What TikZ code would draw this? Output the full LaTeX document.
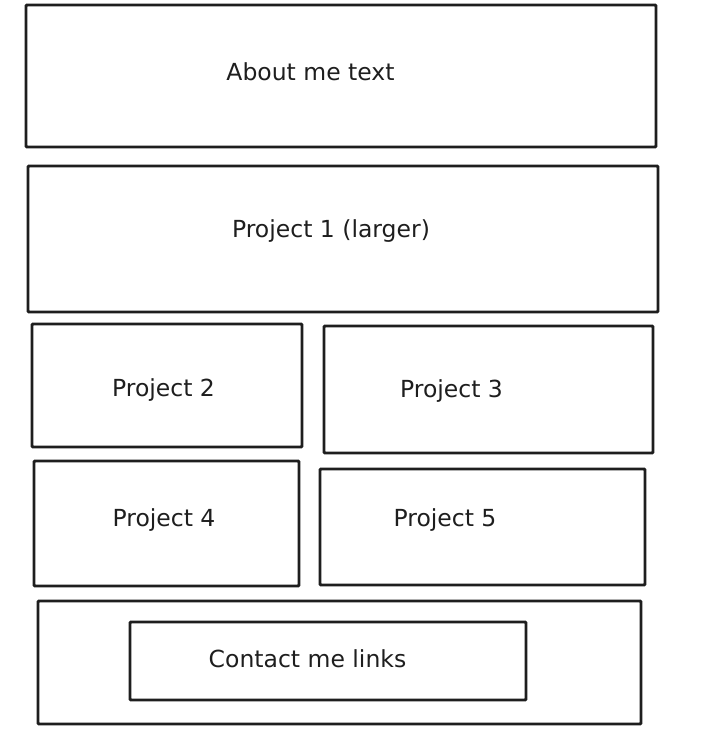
\documentclass[tikz,border=0pt]{standalone}
\usepackage{fontspec}
\setmainfont{DejaVu Sans}
\definecolor{ink}{HTML}{1E1E1E}
\begin{document}
\begin{tikzpicture}[x=1pt,y=-1pt,
  panel/.style={draw=ink, line width=2.9pt, rounded corners=1pt, inner sep=0pt, fill=white},
  caption/.style={anchor=base, text=ink, inner sep=0pt, font=\fontsize{23.5}{27}\selectfont}]
  \useasboundingbox[fill=white] (0,0) rectangle (705,739);

  % page sections
  \node[panel, minimum width=630pt, minimum height=142pt] (about) at (341,76) {};
  \node[panel, minimum width=630pt, minimum height=146pt] (p1) at (343,239) {};
  \node[panel, minimum width=270pt, minimum height=123pt] (p2) at (167,385.5) {};
  \node[panel, minimum width=329pt, minimum height=127pt] (p3) at (488.5,389.5) {};
  \node[panel, minimum width=265pt, minimum height=125pt] (p4) at (166.5,523.5) {};
  \node[panel, minimum width=325pt, minimum height=116pt] (p5) at (482.5,527) {};
  \node[panel, minimum width=603pt, minimum height=123pt] (contact) at (339.5,662.5) {};
  \node[panel, minimum width=396pt, minimum height=78pt] (links) at (328,661) {};

  % labels
  \node[caption] (aboutT) at (310.5,80) {About me text};
  \node[caption] (p1T) at (331,237) {Project 1 (larger)};
  \node[caption] (p2T) at (163.5,396) {Project 2};
  \node[caption] (p3T) at (451.5,397) {Project 3};
  \node[caption] (p4T) at (164,526) {Project 4};
  \node[caption] (p5T) at (445,526) {Project 5};
  \node[caption] (linksT) at (307.5,667) {Contact me links};
\end{tikzpicture}
\end{document}
